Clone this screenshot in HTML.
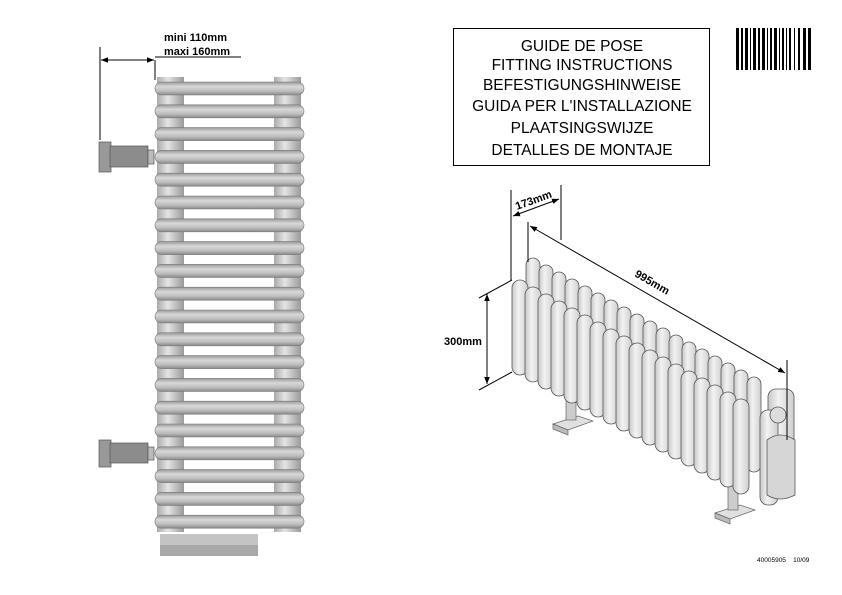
<!DOCTYPE html>
<html><head><style>
body{margin:0;background:#fff}
svg{display:block}
text{font-family:"Liberation Sans",sans-serif}
</style></head><body>
<svg width="842" height="595" viewBox="0 0 842 595" xmlns="http://www.w3.org/2000/svg">
<defs>
<linearGradient id="bar" x1="0" y1="0" x2="0" y2="1">
<stop offset="0" stop-color="#9a9a9a"/><stop offset="0.35" stop-color="#d8d8d8"/><stop offset="0.7" stop-color="#bdbdbd"/><stop offset="1" stop-color="#8a8a8a"/></linearGradient>
<linearGradient id="col" x1="0" y1="0" x2="1" y2="0">
<stop offset="0" stop-color="#aaa"/><stop offset="0.4" stop-color="#e4e4e4"/><stop offset="1" stop-color="#9a9a9a"/></linearGradient>
<linearGradient id="sec" x1="0" y1="0" x2="1" y2="0">
<stop offset="0" stop-color="#c8c8c8"/><stop offset="0.4" stop-color="#f2f2f2"/><stop offset="1" stop-color="#cfcfcf"/></linearGradient>
<marker id="ar" viewBox="0 0 10 10" refX="10" refY="5" markerWidth="7" markerHeight="7" orient="auto-start-reverse"><path d="M0,1 L10,5 L0,9 z" fill="#000"/></marker>
</defs>

<rect x="157" y="77" width="27" height="455" fill="url(#col)"/>
<rect x="274" y="77" width="27" height="455" fill="url(#col)"/>
<g fill="url(#bar)" stroke="#777" stroke-width="0.6">
<rect x="155" y="82" width="149" height="13" rx="6.5"/>
<rect x="155" y="104.8" width="149" height="13" rx="6.5"/>
<rect x="155" y="127.6" width="149" height="13" rx="6.5"/>
<rect x="155" y="150.4" width="149" height="13" rx="6.5"/>
<rect x="155" y="173.2" width="149" height="13" rx="6.5"/>
<rect x="155" y="196" width="149" height="13" rx="6.5"/>
<rect x="155" y="218.8" width="149" height="13" rx="6.5"/>
<rect x="155" y="241.6" width="149" height="13" rx="6.5"/>
<rect x="155" y="264.4" width="149" height="13" rx="6.5"/>
<rect x="155" y="287.2" width="149" height="13" rx="6.5"/>
<rect x="155" y="310" width="149" height="13" rx="6.5"/>
<rect x="155" y="332.8" width="149" height="13" rx="6.5"/>
<rect x="155" y="355.6" width="149" height="13" rx="6.5"/>
<rect x="155" y="378.4" width="149" height="13" rx="6.5"/>
<rect x="155" y="401.2" width="149" height="13" rx="6.5"/>
<rect x="155" y="424" width="149" height="13" rx="6.5"/>
<rect x="155" y="446.8" width="149" height="13" rx="6.5"/>
<rect x="155" y="469.6" width="149" height="13" rx="6.5"/>
<rect x="155" y="492.4" width="149" height="13" rx="6.5"/>
<rect x="155" y="515.2" width="149" height="13" rx="6.5"/>
</g>
<rect x="160" y="534" width="98" height="11" fill="#c4c4c4"/>
<rect x="160" y="545" width="98" height="11" fill="#a8a8a8"/>
<g stroke="#555" stroke-width="0.7">
<rect x="99" y="142" width="12" height="30" fill="#999"/>
<rect x="110" y="146" width="38" height="21" fill="#8c8c8c"/>
<rect x="148" y="150" width="6" height="14" fill="#bbb"/>
<rect x="99" y="440" width="12" height="27" fill="#999"/>
<rect x="110" y="443" width="38" height="20" fill="#8c8c8c"/>
<rect x="148" y="447" width="6" height="13" fill="#bbb"/>
</g>
<line x1="100" y1="47" x2="100" y2="140" stroke="#000"/>
<line x1="155" y1="60" x2="155" y2="80" stroke="#000"/>
<line x1="101" y1="60" x2="154" y2="60" stroke="#000" marker-start="url(#ar)" marker-end="url(#ar)"/>
<line x1="155" y1="57" x2="241" y2="57" stroke="#000"/>
<text x="164" y="41" font-size="11" font-weight="bold">mini 110mm</text>
<text x="164" y="55" font-size="11" font-weight="bold">maxi 160mm</text>

<rect x="453.5" y="28.5" width="256" height="137" fill="none" stroke="#000"/>
<g font-size="15.5" text-anchor="middle" fill="#000">
<text x="582" y="51">GUIDE DE POSE</text>
<text x="582" y="70">FITTING INSTRUCTIONS</text>
<text x="582" y="90">BEFESTIGUNGSHINWEISE</text>
<text x="582" y="111">GUIDA PER L'INSTALLAZIONE</text>
<text x="582" y="133">PLAATSINGSWIJZE</text>
<text x="582" y="155">DETALLES DE MONTAJE</text>
</g>
<g fill="#000">
<rect x="736" y="28" width="3" height="42"/><rect x="741" y="28" width="2" height="42"/><rect x="745" y="28" width="3" height="42"/><rect x="750" y="28" width="1" height="42"/>
<rect x="753" y="28" width="3" height="42"/><rect x="758" y="28" width="2" height="42"/><rect x="762" y="28" width="3" height="42"/><rect x="767" y="28" width="1" height="42"/>
<rect x="770" y="28" width="2" height="42"/><rect x="774" y="28" width="3" height="42"/><rect x="779" y="28" width="1" height="42"/><rect x="782" y="28" width="2" height="42"/>
<rect x="786" y="28" width="1" height="42"/><rect x="789" y="28" width="2" height="42"/><rect x="794" y="28" width="1" height="42"/><rect x="798" y="28" width="2" height="42"/>
<rect x="803" y="28" width="3" height="42"/><rect x="808" y="28" width="3" height="42"/>
</g>

<g stroke="#666" stroke-width="0.7">
<path d="M553,424 L578,416 L593,421 L568,430 Z" fill="#e0e0e0"/>
<path d="M553,424 L568,430 L568,435 L553,429 Z" fill="#bbb"/>
<rect x="566" y="395" width="10" height="25" fill="#ccc"/>
<path d="M715,513 L740,505 L755,510 L730,519 Z" fill="#e0e0e0"/>
<path d="M715,513 L730,519 L730,524 L715,518 Z" fill="#bbb"/>
<rect x="728" y="485" width="10" height="25" fill="#ccc"/>
</g>
<g stroke="#555" stroke-width="0.8" fill="url(#sec)">
<rect x="526" y="258" width="14" height="95" rx="7"/><rect x="512" y="280" width="16" height="95" rx="8"/>
<rect x="539" y="265" width="14" height="95" rx="7"/><rect x="525" y="287" width="16" height="95" rx="8"/>
<rect x="552" y="272" width="14" height="95" rx="7"/><rect x="538" y="294" width="16" height="95" rx="8"/>
<rect x="565" y="279" width="14" height="95" rx="7"/><rect x="551" y="301" width="16" height="95" rx="8"/>
<rect x="578" y="286" width="14" height="95" rx="7"/><rect x="564" y="308" width="16" height="95" rx="8"/>
<rect x="591" y="293" width="14" height="95" rx="7"/><rect x="577" y="315" width="16" height="95" rx="8"/>
<rect x="604" y="300" width="14" height="95" rx="7"/><rect x="590" y="322" width="16" height="95" rx="8"/>
<rect x="617" y="307" width="14" height="95" rx="7"/><rect x="603" y="329" width="16" height="95" rx="8"/>
<rect x="630" y="314" width="14" height="95" rx="7"/><rect x="616" y="336" width="16" height="95" rx="8"/>
<rect x="643" y="321" width="14" height="95" rx="7"/><rect x="629" y="343" width="16" height="95" rx="8"/>
<rect x="656" y="328" width="14" height="95" rx="7"/><rect x="642" y="350" width="16" height="95" rx="8"/>
<rect x="669" y="335" width="14" height="95" rx="7"/><rect x="655" y="357" width="16" height="95" rx="8"/>
<rect x="682" y="342" width="14" height="95" rx="7"/><rect x="668" y="364" width="16" height="95" rx="8"/>
<rect x="695" y="349" width="14" height="95" rx="7"/><rect x="681" y="371" width="16" height="95" rx="8"/>
<rect x="708" y="356" width="14" height="95" rx="7"/><rect x="694" y="378" width="16" height="95" rx="8"/>
<rect x="721" y="363" width="14" height="95" rx="7"/><rect x="707" y="385" width="16" height="95" rx="8"/>
<rect x="734" y="370" width="14" height="95" rx="7"/><rect x="720" y="392" width="16" height="95" rx="8"/>
<rect x="747" y="377" width="14" height="95" rx="7"/><rect x="733" y="399" width="16" height="95" rx="8"/>
<rect x="768" y="389" width="26" height="80" rx="8"/>
<rect x="760" y="410" width="18" height="95" rx="8"/>
<circle cx="778" cy="415" r="8" fill="#ddd"/>
<path d="M767,440 Q780,430 795,440 L795,495 Q780,503 767,495 Z" fill="#d6d6d6"/>
</g>
<g stroke="#000" stroke-width="1" fill="none">
<line x1="511" y1="190" x2="511" y2="280"/>
<line x1="561" y1="185" x2="561" y2="240"/>
<line x1="513" y1="216" x2="559" y2="199" marker-start="url(#ar)" marker-end="url(#ar)"/>
<line x1="528" y1="222" x2="528" y2="262"/>
<line x1="787" y1="360" x2="787" y2="440"/>
<line x1="530" y1="226" x2="785" y2="373" marker-start="url(#ar)" marker-end="url(#ar)"/>
<line x1="479" y1="298" x2="512" y2="280"/>
<line x1="479" y1="390" x2="512" y2="372"/>
<line x1="487" y1="294" x2="487" y2="384" marker-start="url(#ar)" marker-end="url(#ar)"/>
</g>
<text x="444" y="345" font-size="11" font-weight="bold">300mm</text>
<text x="0" y="0" font-size="11" font-weight="bold" transform="translate(517,210) rotate(-20)">173mm</text>
<text x="0" y="0" font-size="11" font-weight="bold" transform="translate(634,276) rotate(30)">995mm</text>
<text x="757" y="562" font-size="6.5">40005905&#160;&#160;&#160;&#160;10/09</text>
</svg>
</body></html>
